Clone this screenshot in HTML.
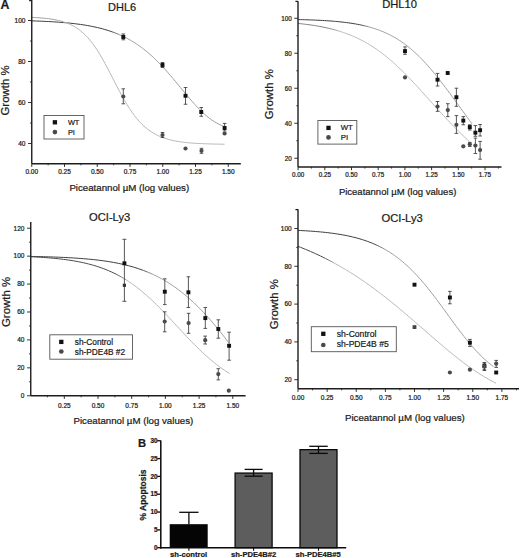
<!DOCTYPE html>
<html><head><meta charset="utf-8"><style>
html,body{margin:0;padding:0;background:#fff;}
svg{display:block;}
text{font-family:"Liberation Sans",sans-serif;stroke:#1a1a1a;stroke-width:0.22px;}
</style></head><body>
<svg width="520" height="558" viewBox="0 0 520 558">
<rect width="520" height="558" fill="#fff"/>
<linearGradient id="g1" gradientUnits="userSpaceOnUse" x1="31.75" y1="0" x2="224.0" y2="0"><stop offset="0.407" stop-color="#3c3c3c"/><stop offset="0.469" stop-color="#a0a0a0"/></linearGradient>
<path d="M31.75,20.86 L34.18,20.94 L36.62,21.02 L39.05,21.12 L41.48,21.22 L43.92,21.32 L46.35,21.44 L48.78,21.57 L51.22,21.70 L53.65,21.85 L56.09,22.00 L58.52,22.17 L60.95,22.36 L63.39,22.55 L65.82,22.76 L68.25,22.99 L70.69,23.24 L73.12,23.50 L75.55,23.79 L77.99,24.10 L80.42,24.43 L82.85,24.78 L85.29,25.17 L87.72,25.58 L90.16,26.02 L92.59,26.50 L95.02,27.01 L97.46,27.56 L99.89,28.15 L102.32,28.78 L104.76,29.46 L107.19,30.19 L109.62,30.97 L112.06,31.80 L114.49,32.69 L116.92,33.64 L119.36,34.66 L121.79,35.74 L124.22,36.90 L126.66,38.13 L129.09,39.44 L131.53,40.83 L133.96,42.31 L136.39,43.87 L138.83,45.52 L141.26,47.27 L143.69,49.11 L146.13,51.05 L148.56,53.08 L150.99,55.21 L153.43,57.44 L155.86,59.77 L158.29,62.19 L160.73,64.70 L163.16,67.30 L165.59,69.97 L168.03,72.72 L170.46,75.53 L172.90,78.40 L175.33,81.32 L177.76,84.26 L180.20,87.22 L182.63,90.18 L185.06,93.13 L187.50,96.05 L189.93,98.92 L192.36,101.73 L194.80,104.45 L197.23,107.08 L199.66,109.59 L202.10,111.97 L204.53,114.22 L206.97,116.31 L209.40,118.25 L211.83,120.02 L214.27,121.63 L216.70,123.07 L219.13,124.35 L221.57,125.47 L224.00,126.44" fill="none" stroke="url(#g1)" stroke-width="1.0" />
<linearGradient id="g2" gradientUnits="userSpaceOnUse" x1="31.75" y1="0" x2="224.6" y2="0"><stop offset="0.115" stop-color="#a0a0a0"/><stop offset="0.178" stop-color="#b8b8b8"/></linearGradient>
<path d="M31.75,17.38 L34.19,17.50 L36.63,17.64 L39.07,17.80 L41.51,17.99 L43.96,18.20 L46.40,18.46 L48.84,18.75 L51.28,19.10 L53.72,19.49 L56.16,19.96 L58.60,20.49 L61.04,21.11 L63.48,21.83 L65.93,22.65 L68.37,23.60 L70.81,24.69 L73.25,25.94 L75.69,27.37 L78.13,28.99 L80.57,30.82 L83.01,32.89 L85.46,35.20 L87.90,37.78 L90.34,40.64 L92.78,43.77 L95.22,47.19 L97.66,50.88 L100.10,54.83 L102.54,59.02 L104.98,63.42 L107.43,67.98 L109.87,72.66 L112.31,77.41 L114.75,82.18 L117.19,86.90 L119.63,91.54 L122.07,96.04 L124.51,100.37 L126.95,104.48 L129.40,108.36 L131.84,111.99 L134.28,115.35 L136.72,118.45 L139.16,121.28 L141.60,123.86 L144.04,126.19 L146.48,128.29 L148.92,130.17 L151.37,131.86 L153.81,133.36 L156.25,134.69 L158.69,135.88 L161.13,136.92 L163.57,137.84 L166.01,138.66 L168.45,139.38 L170.89,140.01 L173.34,140.56 L175.78,141.04 L178.22,141.47 L180.66,141.84 L183.10,142.17 L185.54,142.46 L187.98,142.71 L190.42,142.93 L192.87,143.12 L195.31,143.29 L197.75,143.43 L200.19,143.56 L202.63,143.67 L205.07,143.77 L207.51,143.86 L209.95,143.93 L212.39,144.00 L214.84,144.06 L217.28,144.11 L219.72,144.15 L222.16,144.19 L224.60,144.22" fill="none" stroke="url(#g2)" stroke-width="1.0" />
<line x1="31.75" y1="0" x2="31.75" y2="163.75" stroke="#1e1e1e" stroke-width="1.4"/>
<line x1="28.05" y1="20.5" x2="31.75" y2="20.5" stroke="#1e1e1e" stroke-width="0.9"/>
<text x="25.45" y="22.84" font-size="6.5" text-anchor="end" fill="#1a1a1a">100</text>
<line x1="28.05" y1="61.5" x2="31.75" y2="61.5" stroke="#1e1e1e" stroke-width="0.9"/>
<text x="25.45" y="63.84" font-size="6.5" text-anchor="end" fill="#1a1a1a">80</text>
<line x1="28.05" y1="102.5" x2="31.75" y2="102.5" stroke="#1e1e1e" stroke-width="0.9"/>
<text x="25.45" y="104.84" font-size="6.5" text-anchor="end" fill="#1a1a1a">60</text>
<line x1="28.05" y1="143.5" x2="31.75" y2="143.5" stroke="#1e1e1e" stroke-width="0.9"/>
<text x="25.45" y="145.84" font-size="6.5" text-anchor="end" fill="#1a1a1a">40</text>
<line x1="29.95" y1="41.0" x2="31.75" y2="41.0" stroke="#1e1e1e" stroke-width="0.8"/>
<line x1="29.95" y1="82.0" x2="31.75" y2="82.0" stroke="#1e1e1e" stroke-width="0.8"/>
<line x1="29.95" y1="122.99999999999999" x2="31.75" y2="122.99999999999999" stroke="#1e1e1e" stroke-width="0.8"/>
<line x1="31.75" y1="163.75" x2="240.8" y2="163.75" stroke="#1e1e1e" stroke-width="1.4"/>
<line x1="31.75" y1="163.75" x2="31.75" y2="166.95" stroke="#1e1e1e" stroke-width="0.9"/>
<text x="31.75" y="174.05" font-size="6.5" text-anchor="middle" fill="#1a1a1a">0.00</text>
<line x1="64.5" y1="163.75" x2="64.5" y2="166.95" stroke="#1e1e1e" stroke-width="0.9"/>
<text x="64.5" y="174.05" font-size="6.5" text-anchor="middle" fill="#1a1a1a">0.25</text>
<line x1="97.25" y1="163.75" x2="97.25" y2="166.95" stroke="#1e1e1e" stroke-width="0.9"/>
<text x="97.25" y="174.05" font-size="6.5" text-anchor="middle" fill="#1a1a1a">0.50</text>
<line x1="130.0" y1="163.75" x2="130.0" y2="166.95" stroke="#1e1e1e" stroke-width="0.9"/>
<text x="130.0" y="174.05" font-size="6.5" text-anchor="middle" fill="#1a1a1a">0.75</text>
<line x1="162.75" y1="163.75" x2="162.75" y2="166.95" stroke="#1e1e1e" stroke-width="0.9"/>
<text x="162.75" y="174.05" font-size="6.5" text-anchor="middle" fill="#1a1a1a">1.00</text>
<line x1="195.5" y1="163.75" x2="195.5" y2="166.95" stroke="#1e1e1e" stroke-width="0.9"/>
<text x="195.5" y="174.05" font-size="6.5" text-anchor="middle" fill="#1a1a1a">1.25</text>
<line x1="228.25" y1="163.75" x2="228.25" y2="166.95" stroke="#1e1e1e" stroke-width="0.9"/>
<text x="228.25" y="174.05" font-size="6.5" text-anchor="middle" fill="#1a1a1a">1.50</text>
<line x1="48.125" y1="163.75" x2="48.125" y2="165.35" stroke="#1e1e1e" stroke-width="0.8"/>
<line x1="80.875" y1="163.75" x2="80.875" y2="165.35" stroke="#1e1e1e" stroke-width="0.8"/>
<line x1="113.625" y1="163.75" x2="113.625" y2="165.35" stroke="#1e1e1e" stroke-width="0.8"/>
<line x1="146.375" y1="163.75" x2="146.375" y2="165.35" stroke="#1e1e1e" stroke-width="0.8"/>
<line x1="179.125" y1="163.75" x2="179.125" y2="165.35" stroke="#1e1e1e" stroke-width="0.8"/>
<line x1="211.875" y1="163.75" x2="211.875" y2="165.35" stroke="#1e1e1e" stroke-width="0.8"/>
<line x1="123.3" y1="34" x2="123.3" y2="39.8" stroke="#3a3a3a" stroke-width="0.85"/>
<line x1="121.5" y1="34" x2="125.1" y2="34" stroke="#3a3a3a" stroke-width="0.85"/>
<line x1="121.5" y1="39.8" x2="125.1" y2="39.8" stroke="#3a3a3a" stroke-width="0.85"/>
<rect x="121.35" y="35.05" width="3.9" height="3.9" fill="#111"/>
<line x1="162.5" y1="62.5" x2="162.5" y2="67.5" stroke="#3a3a3a" stroke-width="0.85"/>
<line x1="160.7" y1="62.5" x2="164.3" y2="62.5" stroke="#3a3a3a" stroke-width="0.85"/>
<line x1="160.7" y1="67.5" x2="164.3" y2="67.5" stroke="#3a3a3a" stroke-width="0.85"/>
<rect x="160.55" y="63.05" width="3.9" height="3.9" fill="#111"/>
<line x1="185.5" y1="87.5" x2="185.5" y2="104.25" stroke="#3a3a3a" stroke-width="0.85"/>
<line x1="183.7" y1="87.5" x2="187.3" y2="87.5" stroke="#3a3a3a" stroke-width="0.85"/>
<line x1="183.7" y1="104.25" x2="187.3" y2="104.25" stroke="#3a3a3a" stroke-width="0.85"/>
<rect x="183.55" y="93.80" width="3.9" height="3.9" fill="#111"/>
<line x1="201.25" y1="107.5" x2="201.25" y2="116.25" stroke="#3a3a3a" stroke-width="0.85"/>
<line x1="199.45" y1="107.5" x2="203.05" y2="107.5" stroke="#3a3a3a" stroke-width="0.85"/>
<line x1="199.45" y1="116.25" x2="203.05" y2="116.25" stroke="#3a3a3a" stroke-width="0.85"/>
<rect x="199.30" y="110.05" width="3.9" height="3.9" fill="#111"/>
<line x1="224.6" y1="123.4" x2="224.6" y2="131" stroke="#3a3a3a" stroke-width="0.85"/>
<line x1="222.79999999999998" y1="123.4" x2="226.4" y2="123.4" stroke="#3a3a3a" stroke-width="0.85"/>
<line x1="222.79999999999998" y1="131" x2="226.4" y2="131" stroke="#3a3a3a" stroke-width="0.85"/>
<rect x="222.65" y="126.05" width="3.9" height="3.9" fill="#111"/>
<line x1="123.3" y1="88.8" x2="123.3" y2="103.8" stroke="#3a3a3a" stroke-width="0.85"/>
<line x1="121.5" y1="88.8" x2="125.1" y2="88.8" stroke="#3a3a3a" stroke-width="0.85"/>
<line x1="121.5" y1="103.8" x2="125.1" y2="103.8" stroke="#3a3a3a" stroke-width="0.85"/>
<circle cx="123.3" cy="96.5" r="2.1" fill="#4a4a4a"/>
<line x1="162.5" y1="132.5" x2="162.5" y2="137.5" stroke="#3a3a3a" stroke-width="0.85"/>
<line x1="160.7" y1="132.5" x2="164.3" y2="132.5" stroke="#3a3a3a" stroke-width="0.85"/>
<line x1="160.7" y1="137.5" x2="164.3" y2="137.5" stroke="#3a3a3a" stroke-width="0.85"/>
<circle cx="162.5" cy="135" r="2.1" fill="#4a4a4a"/>
<circle cx="185.5" cy="148.5" r="2.1" fill="#4a4a4a"/>
<line x1="201.5" y1="148.3" x2="201.5" y2="153.3" stroke="#3a3a3a" stroke-width="0.85"/>
<line x1="199.7" y1="148.3" x2="203.3" y2="148.3" stroke="#3a3a3a" stroke-width="0.85"/>
<line x1="199.7" y1="153.3" x2="203.3" y2="153.3" stroke="#3a3a3a" stroke-width="0.85"/>
<circle cx="201.5" cy="150.8" r="2.1" fill="#4a4a4a"/>
<circle cx="224.6" cy="133.5" r="2.1" fill="#4a4a4a"/>
<rect x="44" y="115.5" width="40" height="23.5" fill="#fff" stroke="#555" stroke-width="0.9"/>
<rect x="52.75" y="120.15" width="4.3" height="4.3" fill="#111"/>
<text x="67.9" y="124.9" font-size="7.4" text-anchor="start" font-weight="normal" fill="#1a1a1a" >WT</text>
<circle cx="54.9" cy="132.1" r="2.35" fill="#4a4a4a"/>
<text x="67.9" y="134.6" font-size="7.4" text-anchor="start" font-weight="normal" fill="#1a1a1a" >PI</text>
<text x="108" y="10.8" font-size="11" text-anchor="start" font-weight="normal" fill="#1a1a1a" >DHL6</text>
<text x="69.4" y="190.5" font-size="9.7" text-anchor="start" font-weight="normal" fill="#1a1a1a" >Piceatannol µM (log values)</text>
<text x="9.3" y="90.5" font-size="11.4" text-anchor="middle" font-weight="normal" fill="#1a1a1a" transform="rotate(-90 9.3 90.5)">Growth %</text>
<text x="0.4" y="8.8" font-size="12.3" text-anchor="start" font-weight="bold" fill="#1a1a1a" >A</text>
<linearGradient id="g3" gradientUnits="userSpaceOnUse" x1="298.1" y1="0" x2="472.0" y2="0"><stop offset="0.350" stop-color="#3c3c3c"/><stop offset="0.419" stop-color="#a0a0a0"/></linearGradient>
<path d="M298.10,19.55 L300.30,19.60 L302.50,19.66 L304.70,19.73 L306.91,19.79 L309.11,19.87 L311.31,19.95 L313.51,20.03 L315.71,20.13 L317.91,20.23 L320.11,20.34 L322.31,20.46 L324.52,20.58 L326.72,20.72 L328.92,20.87 L331.12,21.03 L333.32,21.21 L335.52,21.39 L337.72,21.60 L339.92,21.82 L342.13,22.05 L344.33,22.31 L346.53,22.58 L348.73,22.88 L350.93,23.20 L353.13,23.54 L355.33,23.91 L357.53,24.31 L359.74,24.74 L361.94,25.20 L364.14,25.70 L366.34,26.23 L368.54,26.80 L370.74,27.41 L372.94,28.07 L375.14,28.77 L377.35,29.53 L379.55,30.33 L381.75,31.19 L383.95,32.11 L386.15,33.08 L388.35,34.12 L390.55,35.23 L392.75,36.40 L394.96,37.64 L397.16,38.96 L399.36,40.35 L401.56,41.82 L403.76,43.37 L405.96,45.00 L408.16,46.72 L410.36,48.51 L412.57,50.39 L414.77,52.36 L416.97,54.40 L419.17,56.53 L421.37,58.75 L423.57,61.04 L425.77,63.41 L427.97,65.86 L430.18,68.38 L432.38,70.96 L434.58,73.62 L436.78,76.33 L438.98,79.10 L441.18,81.92 L443.38,84.79 L445.58,87.70 L447.79,90.64 L449.99,93.61 L452.19,96.61 L454.39,99.62 L456.59,102.65 L458.79,105.69 L460.99,108.72 L463.19,111.76 L465.40,114.78 L467.60,117.80 L469.80,120.79 L472.00,123.77" fill="none" stroke="url(#g3)" stroke-width="1.0" />
<linearGradient id="g4" gradientUnits="userSpaceOnUse" x1="298.1" y1="0" x2="469.5" y2="0"><stop offset="0.180" stop-color="#808080"/><stop offset="0.250" stop-color="#bcbcbc"/></linearGradient>
<path d="M298.10,23.45 L300.27,23.67 L302.44,23.91 L304.61,24.16 L306.78,24.43 L308.95,24.72 L311.12,25.03 L313.29,25.35 L315.46,25.70 L317.63,26.06 L319.80,26.45 L321.97,26.86 L324.14,27.30 L326.31,27.76 L328.47,28.25 L330.64,28.77 L332.81,29.32 L334.98,29.91 L337.15,30.52 L339.32,31.17 L341.49,31.86 L343.66,32.58 L345.83,33.35 L348.00,34.15 L350.17,35.00 L352.34,35.89 L354.51,36.83 L356.68,37.82 L358.85,38.85 L361.02,39.94 L363.19,41.07 L365.36,42.26 L367.53,43.51 L369.70,44.80 L371.87,46.16 L374.04,47.56 L376.21,49.03 L378.38,50.55 L380.55,52.13 L382.72,53.77 L384.88,55.46 L387.05,57.21 L389.22,59.02 L391.39,60.88 L393.56,62.80 L395.73,64.76 L397.90,66.78 L400.07,68.84 L402.24,70.95 L404.41,73.10 L406.58,75.30 L408.75,77.53 L410.92,79.79 L413.09,82.09 L415.26,84.42 L417.43,86.77 L419.60,89.14 L421.77,91.52 L423.94,93.93 L426.11,96.34 L428.28,98.75 L430.45,101.17 L432.62,103.59 L434.79,106.01 L436.96,108.41 L439.13,110.81 L441.29,113.19 L443.46,115.55 L445.63,117.89 L447.80,120.21 L449.97,122.50 L452.14,124.76 L454.31,127.00 L456.48,129.20 L458.65,131.37 L460.82,133.50 L462.99,135.59 L465.16,137.65 L467.33,139.67 L469.50,141.64" fill="none" stroke="url(#g4)" stroke-width="1.0" />
<line x1="298.0" y1="1.25" x2="298.0" y2="167" stroke="#1e1e1e" stroke-width="1.4"/>
<line x1="294.3" y1="18.25" x2="298.0" y2="18.25" stroke="#1e1e1e" stroke-width="0.9"/>
<text x="291.7" y="20.52" font-size="6.3" text-anchor="end" fill="#1a1a1a">100</text>
<line x1="294.3" y1="53.25" x2="298.0" y2="53.25" stroke="#1e1e1e" stroke-width="0.9"/>
<text x="291.7" y="55.52" font-size="6.3" text-anchor="end" fill="#1a1a1a">80</text>
<line x1="294.3" y1="88.25" x2="298.0" y2="88.25" stroke="#1e1e1e" stroke-width="0.9"/>
<text x="291.7" y="90.52" font-size="6.3" text-anchor="end" fill="#1a1a1a">60</text>
<line x1="294.3" y1="123.25" x2="298.0" y2="123.25" stroke="#1e1e1e" stroke-width="0.9"/>
<text x="291.7" y="125.52" font-size="6.3" text-anchor="end" fill="#1a1a1a">40</text>
<line x1="294.3" y1="158.25" x2="298.0" y2="158.25" stroke="#1e1e1e" stroke-width="0.9"/>
<text x="291.7" y="160.52" font-size="6.3" text-anchor="end" fill="#1a1a1a">20</text>
<line x1="296.2" y1="35.75" x2="298.0" y2="35.75" stroke="#1e1e1e" stroke-width="0.8"/>
<line x1="296.2" y1="70.75" x2="298.0" y2="70.75" stroke="#1e1e1e" stroke-width="0.8"/>
<line x1="296.2" y1="105.75" x2="298.0" y2="105.75" stroke="#1e1e1e" stroke-width="0.8"/>
<line x1="296.2" y1="140.75" x2="298.0" y2="140.75" stroke="#1e1e1e" stroke-width="0.8"/>
<line x1="298.0" y1="167" x2="501.5" y2="167" stroke="#1e1e1e" stroke-width="1.4"/>
<line x1="298.1" y1="167" x2="298.1" y2="170.2" stroke="#1e1e1e" stroke-width="0.9"/>
<text x="298.1" y="177.20" font-size="6.3" text-anchor="middle" fill="#1a1a1a">0.00</text>
<line x1="324.8" y1="167" x2="324.8" y2="170.2" stroke="#1e1e1e" stroke-width="0.9"/>
<text x="324.8" y="177.20" font-size="6.3" text-anchor="middle" fill="#1a1a1a">0.25</text>
<line x1="351.5" y1="167" x2="351.5" y2="170.2" stroke="#1e1e1e" stroke-width="0.9"/>
<text x="351.5" y="177.20" font-size="6.3" text-anchor="middle" fill="#1a1a1a">0.50</text>
<line x1="378.20000000000005" y1="167" x2="378.20000000000005" y2="170.2" stroke="#1e1e1e" stroke-width="0.9"/>
<text x="378.20000000000005" y="177.20" font-size="6.3" text-anchor="middle" fill="#1a1a1a">0.75</text>
<line x1="404.90000000000003" y1="167" x2="404.90000000000003" y2="170.2" stroke="#1e1e1e" stroke-width="0.9"/>
<text x="404.90000000000003" y="177.20" font-size="6.3" text-anchor="middle" fill="#1a1a1a">1.00</text>
<line x1="431.6" y1="167" x2="431.6" y2="170.2" stroke="#1e1e1e" stroke-width="0.9"/>
<text x="431.6" y="177.20" font-size="6.3" text-anchor="middle" fill="#1a1a1a">1.25</text>
<line x1="458.3" y1="167" x2="458.3" y2="170.2" stroke="#1e1e1e" stroke-width="0.9"/>
<text x="458.3" y="177.20" font-size="6.3" text-anchor="middle" fill="#1a1a1a">1.50</text>
<line x1="485.0" y1="167" x2="485.0" y2="170.2" stroke="#1e1e1e" stroke-width="0.9"/>
<text x="485.0" y="177.20" font-size="6.3" text-anchor="middle" fill="#1a1a1a">1.75</text>
<line x1="311.45000000000005" y1="167" x2="311.45000000000005" y2="168.6" stroke="#1e1e1e" stroke-width="0.8"/>
<line x1="338.15000000000003" y1="167" x2="338.15000000000003" y2="168.6" stroke="#1e1e1e" stroke-width="0.8"/>
<line x1="364.85" y1="167" x2="364.85" y2="168.6" stroke="#1e1e1e" stroke-width="0.8"/>
<line x1="391.55" y1="167" x2="391.55" y2="168.6" stroke="#1e1e1e" stroke-width="0.8"/>
<line x1="418.25" y1="167" x2="418.25" y2="168.6" stroke="#1e1e1e" stroke-width="0.8"/>
<line x1="444.95000000000005" y1="167" x2="444.95000000000005" y2="168.6" stroke="#1e1e1e" stroke-width="0.8"/>
<line x1="471.65" y1="167" x2="471.65" y2="168.6" stroke="#1e1e1e" stroke-width="0.8"/>
<line x1="498.35" y1="167" x2="498.35" y2="168.6" stroke="#1e1e1e" stroke-width="0.8"/>
<line x1="405" y1="46.9" x2="405" y2="54.3" stroke="#3a3a3a" stroke-width="0.85"/>
<line x1="403.2" y1="46.9" x2="406.8" y2="46.9" stroke="#3a3a3a" stroke-width="0.85"/>
<line x1="403.2" y1="54.3" x2="406.8" y2="54.3" stroke="#3a3a3a" stroke-width="0.85"/>
<rect x="403.05" y="49.15" width="3.9" height="3.9" fill="#111"/>
<circle cx="405" cy="77.4" r="2.1" fill="#4a4a4a"/>
<line x1="437.5" y1="73.4" x2="437.5" y2="86" stroke="#3a3a3a" stroke-width="0.85"/>
<line x1="435.7" y1="73.4" x2="439.3" y2="73.4" stroke="#3a3a3a" stroke-width="0.85"/>
<line x1="435.7" y1="86" x2="439.3" y2="86" stroke="#3a3a3a" stroke-width="0.85"/>
<rect x="435.55" y="77.75" width="3.9" height="3.9" fill="#111"/>
<rect x="445.75" y="71.05" width="3.9" height="3.9" fill="#111"/>
<line x1="456.4" y1="88.2" x2="456.4" y2="106.3" stroke="#3a3a3a" stroke-width="0.85"/>
<line x1="454.59999999999997" y1="88.2" x2="458.2" y2="88.2" stroke="#3a3a3a" stroke-width="0.85"/>
<line x1="454.59999999999997" y1="106.3" x2="458.2" y2="106.3" stroke="#3a3a3a" stroke-width="0.85"/>
<rect x="454.45" y="95.25" width="3.9" height="3.9" fill="#111"/>
<line x1="463.3" y1="116.6" x2="463.3" y2="124.8" stroke="#3a3a3a" stroke-width="0.85"/>
<line x1="461.5" y1="116.6" x2="465.1" y2="116.6" stroke="#3a3a3a" stroke-width="0.85"/>
<line x1="461.5" y1="124.8" x2="465.1" y2="124.8" stroke="#3a3a3a" stroke-width="0.85"/>
<rect x="461.35" y="118.65" width="3.9" height="3.9" fill="#111"/>
<line x1="469.8" y1="124.8" x2="469.8" y2="130" stroke="#3a3a3a" stroke-width="0.85"/>
<line x1="468.0" y1="124.8" x2="471.6" y2="124.8" stroke="#3a3a3a" stroke-width="0.85"/>
<line x1="468.0" y1="130" x2="471.6" y2="130" stroke="#3a3a3a" stroke-width="0.85"/>
<rect x="467.85" y="125.15" width="3.9" height="3.9" fill="#111"/>
<line x1="475.4" y1="125.6" x2="475.4" y2="136.3" stroke="#3a3a3a" stroke-width="0.85"/>
<line x1="473.59999999999997" y1="125.6" x2="477.2" y2="125.6" stroke="#3a3a3a" stroke-width="0.85"/>
<line x1="473.59999999999997" y1="136.3" x2="477.2" y2="136.3" stroke="#3a3a3a" stroke-width="0.85"/>
<rect x="473.45" y="130.75" width="3.9" height="3.9" fill="#111"/>
<line x1="480.1" y1="124.5" x2="480.1" y2="136" stroke="#3a3a3a" stroke-width="0.85"/>
<line x1="478.3" y1="124.5" x2="481.90000000000003" y2="124.5" stroke="#3a3a3a" stroke-width="0.85"/>
<line x1="478.3" y1="136" x2="481.90000000000003" y2="136" stroke="#3a3a3a" stroke-width="0.85"/>
<rect x="478.15" y="128.25" width="3.9" height="3.9" fill="#111"/>
<line x1="437.5" y1="101.5" x2="437.5" y2="111.3" stroke="#3a3a3a" stroke-width="0.85"/>
<line x1="435.7" y1="101.5" x2="439.3" y2="101.5" stroke="#3a3a3a" stroke-width="0.85"/>
<line x1="435.7" y1="111.3" x2="439.3" y2="111.3" stroke="#3a3a3a" stroke-width="0.85"/>
<circle cx="437.5" cy="106.6" r="2.1" fill="#4a4a4a"/>
<line x1="447.8" y1="103.7" x2="447.8" y2="116.6" stroke="#3a3a3a" stroke-width="0.85"/>
<line x1="446.0" y1="103.7" x2="449.6" y2="103.7" stroke="#3a3a3a" stroke-width="0.85"/>
<line x1="446.0" y1="116.6" x2="449.6" y2="116.6" stroke="#3a3a3a" stroke-width="0.85"/>
<circle cx="447.8" cy="110.1" r="2.1" fill="#4a4a4a"/>
<line x1="456.4" y1="115.6" x2="456.4" y2="133.4" stroke="#3a3a3a" stroke-width="0.85"/>
<line x1="454.59999999999997" y1="115.6" x2="458.2" y2="115.6" stroke="#3a3a3a" stroke-width="0.85"/>
<line x1="454.59999999999997" y1="133.4" x2="458.2" y2="133.4" stroke="#3a3a3a" stroke-width="0.85"/>
<circle cx="456.4" cy="124.8" r="2.1" fill="#4a4a4a"/>
<circle cx="463.3" cy="146.3" r="2.1" fill="#4a4a4a"/>
<line x1="469.8" y1="142.4" x2="469.8" y2="146.4" stroke="#3a3a3a" stroke-width="0.85"/>
<line x1="468.0" y1="142.4" x2="471.6" y2="142.4" stroke="#3a3a3a" stroke-width="0.85"/>
<line x1="468.0" y1="146.4" x2="471.6" y2="146.4" stroke="#3a3a3a" stroke-width="0.85"/>
<circle cx="469.8" cy="144.3" r="2.1" fill="#4a4a4a"/>
<line x1="475.4" y1="138.1" x2="475.4" y2="153.5" stroke="#3a3a3a" stroke-width="0.85"/>
<line x1="473.59999999999997" y1="138.1" x2="477.2" y2="138.1" stroke="#3a3a3a" stroke-width="0.85"/>
<line x1="473.59999999999997" y1="153.5" x2="477.2" y2="153.5" stroke="#3a3a3a" stroke-width="0.85"/>
<circle cx="475.4" cy="145.6" r="2.1" fill="#4a4a4a"/>
<line x1="480.1" y1="141.4" x2="480.1" y2="159.2" stroke="#3a3a3a" stroke-width="0.85"/>
<line x1="478.3" y1="141.4" x2="481.90000000000003" y2="141.4" stroke="#3a3a3a" stroke-width="0.85"/>
<line x1="478.3" y1="159.2" x2="481.90000000000003" y2="159.2" stroke="#3a3a3a" stroke-width="0.85"/>
<circle cx="480.1" cy="150" r="2.1" fill="#4a4a4a"/>
<rect x="317.9" y="120.5" width="38.900000000000034" height="23.599999999999994" fill="#fff" stroke="#555" stroke-width="0.9"/>
<rect x="326.35" y="125.75" width="4.3" height="4.3" fill="#111"/>
<text x="340.7" y="130.3" font-size="7.8" text-anchor="start" font-weight="normal" fill="#1a1a1a" >WT</text>
<circle cx="328.5" cy="137.4" r="2.35" fill="#4a4a4a"/>
<text x="340.7" y="140.2" font-size="7.8" text-anchor="start" font-weight="normal" fill="#1a1a1a" >PI</text>
<text x="382.2" y="8.2" font-size="11.2" text-anchor="start" font-weight="normal" fill="#1a1a1a" >DHL10</text>
<text x="338.9" y="194.7" font-size="9.5" text-anchor="start" font-weight="normal" fill="#1a1a1a" >Piceatannol µM (log values)</text>
<text x="273.0" y="94.2" font-size="11.4" text-anchor="middle" font-weight="normal" fill="#1a1a1a" transform="rotate(-90 273.0 94.2)">Growth %</text>
<linearGradient id="g5" gradientUnits="userSpaceOnUse" x1="30.75" y1="0" x2="228.6" y2="0"><stop offset="0.557" stop-color="#3c3c3c"/><stop offset="0.618" stop-color="#a0a0a0"/></linearGradient>
<path d="M30.75,256.43 L33.25,256.48 L35.76,256.53 L38.26,256.59 L40.77,256.65 L43.27,256.71 L45.78,256.78 L48.28,256.85 L50.79,256.93 L53.29,257.02 L55.79,257.11 L58.30,257.21 L60.80,257.31 L63.31,257.42 L65.81,257.54 L68.32,257.67 L70.82,257.81 L73.33,257.96 L75.83,258.12 L78.33,258.29 L80.84,258.47 L83.34,258.66 L85.85,258.87 L88.35,259.10 L90.86,259.34 L93.36,259.59 L95.87,259.87 L98.37,260.16 L100.87,260.48 L103.38,260.81 L105.88,261.17 L108.39,261.55 L110.89,261.96 L113.40,262.40 L115.90,262.86 L118.41,263.36 L120.91,263.89 L123.41,264.45 L125.92,265.05 L128.42,265.69 L130.93,266.37 L133.43,267.09 L135.94,267.86 L138.44,268.67 L140.94,269.53 L143.45,270.44 L145.95,271.41 L148.46,272.43 L150.96,273.51 L153.47,274.65 L155.97,275.85 L158.48,277.11 L160.98,278.44 L163.48,279.84 L165.99,281.31 L168.49,282.85 L171.00,284.47 L173.50,286.16 L176.01,287.92 L178.51,289.76 L181.02,291.68 L183.52,293.68 L186.02,295.75 L188.53,297.91 L191.03,300.14 L193.54,302.46 L196.04,304.85 L198.55,307.32 L201.05,309.86 L203.56,312.49 L206.06,315.18 L208.56,317.95 L211.07,320.79 L213.57,323.70 L216.08,326.68 L218.58,329.72 L221.09,332.83 L223.59,335.99 L226.10,339.22 L228.60,342.50" fill="none" stroke="url(#g5)" stroke-width="1.0" />
<linearGradient id="g6" gradientUnits="userSpaceOnUse" x1="30.75" y1="0" x2="229.5" y2="0"><stop offset="0.429" stop-color="#4a4a4a"/><stop offset="0.489" stop-color="#b8b8b8"/></linearGradient>
<path d="M30.75,256.74 L33.27,256.86 L35.78,256.99 L38.30,257.14 L40.81,257.29 L43.33,257.46 L45.84,257.64 L48.36,257.83 L50.88,258.04 L53.39,258.27 L55.91,258.51 L58.42,258.78 L60.94,259.06 L63.46,259.36 L65.97,259.69 L68.49,260.04 L71.00,260.42 L73.52,260.83 L76.03,261.27 L78.55,261.74 L81.07,262.24 L83.58,262.78 L86.10,263.36 L88.61,263.98 L91.13,264.65 L93.65,265.36 L96.16,266.12 L98.68,266.93 L101.19,267.79 L103.71,268.71 L106.22,269.70 L108.74,270.74 L111.26,271.85 L113.77,273.02 L116.29,274.27 L118.80,275.59 L121.32,276.98 L123.84,278.45 L126.35,280.00 L128.87,281.63 L131.38,283.33 L133.90,285.12 L136.41,286.99 L138.93,288.94 L141.45,290.97 L143.96,293.07 L146.48,295.26 L148.99,297.51 L151.51,299.84 L154.03,302.23 L156.54,304.68 L159.06,307.19 L161.57,309.75 L164.09,312.35 L166.60,315.00 L169.12,317.67 L171.64,320.37 L174.15,323.08 L176.67,325.80 L179.18,328.52 L181.70,331.23 L184.22,333.93 L186.73,336.60 L189.25,339.24 L191.76,341.85 L194.28,344.42 L196.79,346.93 L199.31,349.39 L201.83,351.80 L204.34,354.14 L206.86,356.41 L209.37,358.61 L211.89,360.74 L214.41,362.80 L216.92,364.77 L219.44,366.68 L221.95,368.50 L224.47,370.25 L226.98,371.93 L229.50,373.52" fill="none" stroke="url(#g6)" stroke-width="1.0" />
<line x1="30.75" y1="222" x2="30.75" y2="395.75" stroke="#1e1e1e" stroke-width="1.4"/>
<line x1="27.05" y1="228.23000000000002" x2="30.75" y2="228.23000000000002" stroke="#1e1e1e" stroke-width="0.9"/>
<text x="24.45" y="230.57" font-size="6.5" text-anchor="end" fill="#1a1a1a">120</text>
<line x1="27.05" y1="256.15" x2="30.75" y2="256.15" stroke="#1e1e1e" stroke-width="0.9"/>
<text x="24.45" y="258.49" font-size="6.5" text-anchor="end" fill="#1a1a1a">100</text>
<line x1="27.05" y1="284.07" x2="30.75" y2="284.07" stroke="#1e1e1e" stroke-width="0.9"/>
<text x="24.45" y="286.41" font-size="6.5" text-anchor="end" fill="#1a1a1a">80</text>
<line x1="27.05" y1="311.99" x2="30.75" y2="311.99" stroke="#1e1e1e" stroke-width="0.9"/>
<text x="24.45" y="314.33" font-size="6.5" text-anchor="end" fill="#1a1a1a">60</text>
<line x1="27.05" y1="339.91" x2="30.75" y2="339.91" stroke="#1e1e1e" stroke-width="0.9"/>
<text x="24.45" y="342.25" font-size="6.5" text-anchor="end" fill="#1a1a1a">40</text>
<line x1="27.05" y1="367.83" x2="30.75" y2="367.83" stroke="#1e1e1e" stroke-width="0.9"/>
<text x="24.45" y="370.17" font-size="6.5" text-anchor="end" fill="#1a1a1a">20</text>
<line x1="27.05" y1="395.75" x2="30.75" y2="395.75" stroke="#1e1e1e" stroke-width="0.9"/>
<text x="24.45" y="398.09" font-size="6.5" text-anchor="end" fill="#1a1a1a">0</text>
<line x1="28.95" y1="242.19" x2="30.75" y2="242.19" stroke="#1e1e1e" stroke-width="0.8"/>
<line x1="28.95" y1="270.11" x2="30.75" y2="270.11" stroke="#1e1e1e" stroke-width="0.8"/>
<line x1="28.95" y1="298.03" x2="30.75" y2="298.03" stroke="#1e1e1e" stroke-width="0.8"/>
<line x1="28.95" y1="325.95" x2="30.75" y2="325.95" stroke="#1e1e1e" stroke-width="0.8"/>
<line x1="28.95" y1="353.87" x2="30.75" y2="353.87" stroke="#1e1e1e" stroke-width="0.8"/>
<line x1="28.95" y1="381.79" x2="30.75" y2="381.79" stroke="#1e1e1e" stroke-width="0.8"/>
<line x1="30.75" y1="395.75" x2="245.6" y2="395.75" stroke="#1e1e1e" stroke-width="1.4"/>
<line x1="64.30000000000001" y1="395.75" x2="64.30000000000001" y2="398.95" stroke="#1e1e1e" stroke-width="0.9"/>
<text x="64.30000000000001" y="407.75" font-size="6.5" text-anchor="middle" fill="#1a1a1a">0.25</text>
<line x1="98.0" y1="395.75" x2="98.0" y2="398.95" stroke="#1e1e1e" stroke-width="0.9"/>
<text x="98.0" y="407.75" font-size="6.5" text-anchor="middle" fill="#1a1a1a">0.50</text>
<line x1="131.70000000000002" y1="395.75" x2="131.70000000000002" y2="398.95" stroke="#1e1e1e" stroke-width="0.9"/>
<text x="131.70000000000002" y="407.75" font-size="6.5" text-anchor="middle" fill="#1a1a1a">0.75</text>
<line x1="165.4" y1="395.75" x2="165.4" y2="398.95" stroke="#1e1e1e" stroke-width="0.9"/>
<text x="165.4" y="407.75" font-size="6.5" text-anchor="middle" fill="#1a1a1a">1.00</text>
<line x1="199.1" y1="395.75" x2="199.1" y2="398.95" stroke="#1e1e1e" stroke-width="0.9"/>
<text x="199.1" y="407.75" font-size="6.5" text-anchor="middle" fill="#1a1a1a">1.25</text>
<line x1="232.8" y1="395.75" x2="232.8" y2="398.95" stroke="#1e1e1e" stroke-width="0.9"/>
<text x="232.8" y="407.75" font-size="6.5" text-anchor="middle" fill="#1a1a1a">1.50</text>
<line x1="47.45" y1="395.75" x2="47.45" y2="397.35" stroke="#1e1e1e" stroke-width="0.8"/>
<line x1="81.15" y1="395.75" x2="81.15" y2="397.35" stroke="#1e1e1e" stroke-width="0.8"/>
<line x1="114.85" y1="395.75" x2="114.85" y2="397.35" stroke="#1e1e1e" stroke-width="0.8"/>
<line x1="148.55" y1="395.75" x2="148.55" y2="397.35" stroke="#1e1e1e" stroke-width="0.8"/>
<line x1="182.25" y1="395.75" x2="182.25" y2="397.35" stroke="#1e1e1e" stroke-width="0.8"/>
<line x1="215.95000000000002" y1="395.75" x2="215.95000000000002" y2="397.35" stroke="#1e1e1e" stroke-width="0.8"/>
<line x1="124.4" y1="239.3" x2="124.4" y2="301.3" stroke="#3a3a3a" stroke-width="0.85"/>
<line x1="122.4" y1="239.3" x2="126.4" y2="239.3" stroke="#3a3a3a" stroke-width="0.85"/>
<line x1="122.4" y1="301.3" x2="126.4" y2="301.3" stroke="#3a3a3a" stroke-width="0.85"/>
<rect x="122.45" y="261.35" width="3.9" height="3.9" fill="#111"/>
<rect x="122.80" y="283.70" width="3.2" height="3.2" fill="#333"/>
<line x1="164.8" y1="278.8" x2="164.8" y2="304.6" stroke="#3a3a3a" stroke-width="0.85"/>
<line x1="163.0" y1="278.8" x2="166.60000000000002" y2="278.8" stroke="#3a3a3a" stroke-width="0.85"/>
<line x1="163.0" y1="304.6" x2="166.60000000000002" y2="304.6" stroke="#3a3a3a" stroke-width="0.85"/>
<rect x="162.85" y="289.75" width="3.9" height="3.9" fill="#111"/>
<line x1="188.4" y1="276.8" x2="188.4" y2="307.5" stroke="#3a3a3a" stroke-width="0.85"/>
<line x1="186.6" y1="276.8" x2="190.20000000000002" y2="276.8" stroke="#3a3a3a" stroke-width="0.85"/>
<line x1="186.6" y1="307.5" x2="190.20000000000002" y2="307.5" stroke="#3a3a3a" stroke-width="0.85"/>
<rect x="186.45" y="290.35" width="3.9" height="3.9" fill="#111"/>
<line x1="205.3" y1="307.5" x2="205.3" y2="328.4" stroke="#3a3a3a" stroke-width="0.85"/>
<line x1="203.5" y1="307.5" x2="207.10000000000002" y2="307.5" stroke="#3a3a3a" stroke-width="0.85"/>
<line x1="203.5" y1="328.4" x2="207.10000000000002" y2="328.4" stroke="#3a3a3a" stroke-width="0.85"/>
<rect x="203.35" y="316.15" width="3.9" height="3.9" fill="#111"/>
<line x1="218.3" y1="319.8" x2="218.3" y2="338.2" stroke="#3a3a3a" stroke-width="0.85"/>
<line x1="216.5" y1="319.8" x2="220.10000000000002" y2="319.8" stroke="#3a3a3a" stroke-width="0.85"/>
<line x1="216.5" y1="338.2" x2="220.10000000000002" y2="338.2" stroke="#3a3a3a" stroke-width="0.85"/>
<rect x="216.35" y="327.05" width="3.9" height="3.9" fill="#111"/>
<line x1="229.1" y1="332.2" x2="229.1" y2="360.2" stroke="#3a3a3a" stroke-width="0.85"/>
<line x1="227.29999999999998" y1="332.2" x2="230.9" y2="332.2" stroke="#3a3a3a" stroke-width="0.85"/>
<line x1="227.29999999999998" y1="360.2" x2="230.9" y2="360.2" stroke="#3a3a3a" stroke-width="0.85"/>
<rect x="227.15" y="343.85" width="3.9" height="3.9" fill="#111"/>
<line x1="164.7" y1="311.8" x2="164.7" y2="331.8" stroke="#3a3a3a" stroke-width="0.85"/>
<line x1="162.89999999999998" y1="311.8" x2="166.5" y2="311.8" stroke="#3a3a3a" stroke-width="0.85"/>
<line x1="162.89999999999998" y1="331.8" x2="166.5" y2="331.8" stroke="#3a3a3a" stroke-width="0.85"/>
<circle cx="164.7" cy="321.5" r="2.1" fill="#4a4a4a"/>
<line x1="188.6" y1="313.3" x2="188.6" y2="333.3" stroke="#3a3a3a" stroke-width="0.85"/>
<line x1="186.79999999999998" y1="313.3" x2="190.4" y2="313.3" stroke="#3a3a3a" stroke-width="0.85"/>
<line x1="186.79999999999998" y1="333.3" x2="190.4" y2="333.3" stroke="#3a3a3a" stroke-width="0.85"/>
<circle cx="188.6" cy="323.1" r="2.1" fill="#4a4a4a"/>
<line x1="205.2" y1="336.1" x2="205.2" y2="344" stroke="#3a3a3a" stroke-width="0.85"/>
<line x1="203.39999999999998" y1="336.1" x2="207.0" y2="336.1" stroke="#3a3a3a" stroke-width="0.85"/>
<line x1="203.39999999999998" y1="344" x2="207.0" y2="344" stroke="#3a3a3a" stroke-width="0.85"/>
<circle cx="205.2" cy="340.2" r="2.1" fill="#4a4a4a"/>
<line x1="218.3" y1="368.7" x2="218.3" y2="379.9" stroke="#3a3a3a" stroke-width="0.85"/>
<line x1="216.5" y1="368.7" x2="220.10000000000002" y2="368.7" stroke="#3a3a3a" stroke-width="0.85"/>
<line x1="216.5" y1="379.9" x2="220.10000000000002" y2="379.9" stroke="#3a3a3a" stroke-width="0.85"/>
<circle cx="218.3" cy="374.1" r="2.1" fill="#4a4a4a"/>
<circle cx="228.8" cy="390.7" r="2.1" fill="#4a4a4a"/>
<rect x="49.8" y="334.8" width="82.7" height="24.399999999999977" fill="#fff" stroke="#555" stroke-width="0.9"/>
<rect x="59.15" y="339.75" width="4.3" height="4.3" fill="#111"/>
<text x="74.8" y="344.8" font-size="8.3" text-anchor="start" font-weight="normal" fill="#1a1a1a" >sh-Control</text>
<circle cx="61.3" cy="351.5" r="2.35" fill="#4a4a4a"/>
<text x="74.8" y="355" font-size="8.3" text-anchor="start" font-weight="normal" fill="#1a1a1a" >sh-PDE4B #2</text>
<text x="89" y="221.2" font-size="11.2" text-anchor="start" font-weight="normal" fill="#1a1a1a" >OCI-Ly3</text>
<text x="73.5" y="423.7" font-size="9.7" text-anchor="start" font-weight="normal" fill="#1a1a1a" >Piceatannol µM (log values)</text>
<text x="10.0" y="302" font-size="11.4" text-anchor="middle" font-weight="normal" fill="#1a1a1a" transform="rotate(-90 10.0 302)">Growth %</text>
<linearGradient id="g7" gradientUnits="userSpaceOnUse" x1="298" y1="0" x2="493.7" y2="0"><stop offset="0.388" stop-color="#3c3c3c"/><stop offset="0.450" stop-color="#a0a0a0"/></linearGradient>
<path d="M298.00,230.39 L300.48,230.52 L302.95,230.65 L305.43,230.79 L307.91,230.94 L310.39,231.11 L312.86,231.28 L315.34,231.48 L317.82,231.68 L320.29,231.90 L322.77,232.14 L325.25,232.40 L327.73,232.68 L330.20,232.98 L332.68,233.30 L335.16,233.65 L337.64,234.02 L340.11,234.42 L342.59,234.85 L345.07,235.31 L347.54,235.81 L350.02,236.34 L352.50,236.92 L354.98,237.53 L357.45,238.19 L359.93,238.89 L362.41,239.65 L364.88,240.46 L367.36,241.33 L369.84,242.25 L372.32,243.24 L374.79,244.29 L377.27,245.42 L379.75,246.62 L382.23,247.89 L384.70,249.25 L387.18,250.69 L389.66,252.21 L392.13,253.83 L394.61,255.54 L397.09,257.35 L399.57,259.25 L402.04,261.26 L404.52,263.36 L407.00,265.58 L409.47,267.89 L411.95,270.31 L414.43,272.83 L416.91,275.46 L419.38,278.18 L421.86,281.00 L424.34,283.92 L426.82,286.92 L429.29,290.00 L431.77,293.15 L434.25,296.38 L436.72,299.66 L439.20,302.98 L441.68,306.35 L444.16,309.74 L446.63,313.15 L449.11,316.56 L451.59,319.97 L454.06,323.35 L456.54,326.70 L459.02,330.01 L461.50,333.26 L463.97,336.44 L466.45,339.55 L468.93,342.57 L471.41,345.50 L473.88,348.32 L476.36,351.04 L478.84,353.65 L481.31,356.14 L483.79,358.51 L486.27,360.76 L488.75,362.89 L491.22,364.90 L493.70,366.78" fill="none" stroke="url(#g7)" stroke-width="1.0" />
<linearGradient id="g8" gradientUnits="userSpaceOnUse" x1="298" y1="0" x2="496" y2="0"><stop offset="0.131" stop-color="#4a4a4a"/><stop offset="0.192" stop-color="#b8b8b8"/></linearGradient>
<path d="M298.00,246.33 L300.51,247.30 L303.01,248.30 L305.52,249.33 L308.03,250.38 L310.53,251.46 L313.04,252.56 L315.54,253.70 L318.05,254.86 L320.56,256.05 L323.06,257.27 L325.57,258.51 L328.08,259.79 L330.58,261.10 L333.09,262.43 L335.59,263.80 L338.10,265.20 L340.61,266.63 L343.11,268.09 L345.62,269.57 L348.13,271.10 L350.63,272.65 L353.14,274.23 L355.65,275.84 L358.15,277.49 L360.66,279.16 L363.16,280.87 L365.67,282.60 L368.18,284.37 L370.68,286.16 L373.19,287.99 L375.70,289.84 L378.20,291.72 L380.71,293.63 L383.22,295.56 L385.72,297.52 L388.23,299.50 L390.73,301.51 L393.24,303.54 L395.75,305.59 L398.25,307.66 L400.76,309.75 L403.27,311.86 L405.77,313.99 L408.28,316.12 L410.78,318.27 L413.29,320.43 L415.80,322.60 L418.30,324.78 L420.81,326.96 L423.32,329.15 L425.82,331.33 L428.33,333.52 L430.84,335.69 L433.34,337.87 L435.85,340.03 L438.35,342.19 L440.86,344.33 L443.37,346.45 L445.87,348.56 L448.38,350.64 L450.89,352.70 L453.39,354.74 L455.90,356.74 L458.41,358.72 L460.91,360.66 L463.42,362.57 L465.92,364.44 L468.43,366.26 L470.94,368.05 L473.44,369.79 L475.95,371.48 L478.46,373.13 L480.96,374.72 L483.47,376.27 L485.97,377.76 L488.48,379.20 L490.99,380.59 L493.49,381.92 L496.00,383.19" fill="none" stroke="url(#g8)" stroke-width="1.0" />
<line x1="298" y1="209.25" x2="298" y2="388.75" stroke="#1e1e1e" stroke-width="1.4"/>
<line x1="294.3" y1="228.5" x2="298" y2="228.5" stroke="#1e1e1e" stroke-width="0.9"/>
<text x="291.7" y="230.84" font-size="6.5" text-anchor="end" fill="#1a1a1a">100</text>
<line x1="294.3" y1="266.3" x2="298" y2="266.3" stroke="#1e1e1e" stroke-width="0.9"/>
<text x="291.7" y="268.64" font-size="6.5" text-anchor="end" fill="#1a1a1a">80</text>
<line x1="294.3" y1="304.1" x2="298" y2="304.1" stroke="#1e1e1e" stroke-width="0.9"/>
<text x="291.7" y="306.44" font-size="6.5" text-anchor="end" fill="#1a1a1a">60</text>
<line x1="294.3" y1="341.9" x2="298" y2="341.9" stroke="#1e1e1e" stroke-width="0.9"/>
<text x="291.7" y="344.24" font-size="6.5" text-anchor="end" fill="#1a1a1a">40</text>
<line x1="294.3" y1="379.7" x2="298" y2="379.7" stroke="#1e1e1e" stroke-width="0.9"/>
<text x="291.7" y="382.04" font-size="6.5" text-anchor="end" fill="#1a1a1a">20</text>
<line x1="296.2" y1="247.4" x2="298" y2="247.4" stroke="#1e1e1e" stroke-width="0.8"/>
<line x1="296.2" y1="285.2" x2="298" y2="285.2" stroke="#1e1e1e" stroke-width="0.8"/>
<line x1="296.2" y1="323.0" x2="298" y2="323.0" stroke="#1e1e1e" stroke-width="0.8"/>
<line x1="296.2" y1="360.79999999999995" x2="298" y2="360.79999999999995" stroke="#1e1e1e" stroke-width="0.8"/>
<line x1="298" y1="388.75" x2="519" y2="388.75" stroke="#1e1e1e" stroke-width="1.4"/>
<line x1="298.0" y1="388.75" x2="298.0" y2="391.95" stroke="#1e1e1e" stroke-width="0.9"/>
<text x="298.0" y="400.25" font-size="6.5" text-anchor="middle" fill="#1a1a1a">0.00</text>
<line x1="327.125" y1="388.75" x2="327.125" y2="391.95" stroke="#1e1e1e" stroke-width="0.9"/>
<text x="327.125" y="400.25" font-size="6.5" text-anchor="middle" fill="#1a1a1a">0.25</text>
<line x1="356.25" y1="388.75" x2="356.25" y2="391.95" stroke="#1e1e1e" stroke-width="0.9"/>
<text x="356.25" y="400.25" font-size="6.5" text-anchor="middle" fill="#1a1a1a">0.50</text>
<line x1="385.375" y1="388.75" x2="385.375" y2="391.95" stroke="#1e1e1e" stroke-width="0.9"/>
<text x="385.375" y="400.25" font-size="6.5" text-anchor="middle" fill="#1a1a1a">0.75</text>
<line x1="414.5" y1="388.75" x2="414.5" y2="391.95" stroke="#1e1e1e" stroke-width="0.9"/>
<text x="414.5" y="400.25" font-size="6.5" text-anchor="middle" fill="#1a1a1a">1.00</text>
<line x1="443.625" y1="388.75" x2="443.625" y2="391.95" stroke="#1e1e1e" stroke-width="0.9"/>
<text x="443.625" y="400.25" font-size="6.5" text-anchor="middle" fill="#1a1a1a">1.25</text>
<line x1="472.75" y1="388.75" x2="472.75" y2="391.95" stroke="#1e1e1e" stroke-width="0.9"/>
<text x="472.75" y="400.25" font-size="6.5" text-anchor="middle" fill="#1a1a1a">1.50</text>
<line x1="501.875" y1="388.75" x2="501.875" y2="391.95" stroke="#1e1e1e" stroke-width="0.9"/>
<text x="501.875" y="400.25" font-size="6.5" text-anchor="middle" fill="#1a1a1a">1.75</text>
<line x1="312.5625" y1="388.75" x2="312.5625" y2="390.35" stroke="#1e1e1e" stroke-width="0.8"/>
<line x1="341.6875" y1="388.75" x2="341.6875" y2="390.35" stroke="#1e1e1e" stroke-width="0.8"/>
<line x1="370.8125" y1="388.75" x2="370.8125" y2="390.35" stroke="#1e1e1e" stroke-width="0.8"/>
<line x1="399.9375" y1="388.75" x2="399.9375" y2="390.35" stroke="#1e1e1e" stroke-width="0.8"/>
<line x1="429.0625" y1="388.75" x2="429.0625" y2="390.35" stroke="#1e1e1e" stroke-width="0.8"/>
<line x1="458.1875" y1="388.75" x2="458.1875" y2="390.35" stroke="#1e1e1e" stroke-width="0.8"/>
<line x1="487.3125" y1="388.75" x2="487.3125" y2="390.35" stroke="#1e1e1e" stroke-width="0.8"/>
<line x1="516.4375" y1="388.75" x2="516.4375" y2="390.35" stroke="#1e1e1e" stroke-width="0.8"/>
<rect x="412.55" y="282.75" width="3.9" height="3.9" fill="#111"/>
<line x1="449.9" y1="291.4" x2="449.9" y2="303.8" stroke="#3a3a3a" stroke-width="0.85"/>
<line x1="448.09999999999997" y1="291.4" x2="451.7" y2="291.4" stroke="#3a3a3a" stroke-width="0.85"/>
<line x1="448.09999999999997" y1="303.8" x2="451.7" y2="303.8" stroke="#3a3a3a" stroke-width="0.85"/>
<rect x="447.95" y="295.55" width="3.9" height="3.9" fill="#111"/>
<line x1="469.9" y1="339.4" x2="469.9" y2="346.4" stroke="#3a3a3a" stroke-width="0.85"/>
<line x1="468.09999999999997" y1="339.4" x2="471.7" y2="339.4" stroke="#3a3a3a" stroke-width="0.85"/>
<line x1="468.09999999999997" y1="346.4" x2="471.7" y2="346.4" stroke="#3a3a3a" stroke-width="0.85"/>
<rect x="467.95" y="340.75" width="3.9" height="3.9" fill="#111"/>
<line x1="484.4" y1="363.2" x2="484.4" y2="369.7" stroke="#3a3a3a" stroke-width="0.85"/>
<line x1="482.59999999999997" y1="363.2" x2="486.2" y2="363.2" stroke="#3a3a3a" stroke-width="0.85"/>
<line x1="482.59999999999997" y1="369.7" x2="486.2" y2="369.7" stroke="#3a3a3a" stroke-width="0.85"/>
<rect x="482.45" y="364.05" width="3.9" height="3.9" fill="#111"/>
<rect x="494.25" y="370.55" width="3.9" height="3.9" fill="#111"/>
<rect x="412.60" y="325.20" width="3.8" height="3.8" fill="#444"/>
<circle cx="449.9" cy="372.5" r="2.1" fill="#4a4a4a"/>
<circle cx="469.9" cy="369.7" r="2.1" fill="#4a4a4a"/>
<line x1="484.4" y1="362.5" x2="484.4" y2="370.5" stroke="#3a3a3a" stroke-width="0.85"/>
<line x1="482.59999999999997" y1="362.5" x2="486.2" y2="362.5" stroke="#3a3a3a" stroke-width="0.85"/>
<line x1="482.59999999999997" y1="370.5" x2="486.2" y2="370.5" stroke="#3a3a3a" stroke-width="0.85"/>
<circle cx="484.4" cy="366.7" r="2.1" fill="#4a4a4a"/>
<line x1="496.2" y1="360.4" x2="496.2" y2="367.4" stroke="#3a3a3a" stroke-width="0.85"/>
<line x1="494.4" y1="360.4" x2="498.0" y2="360.4" stroke="#3a3a3a" stroke-width="0.85"/>
<line x1="494.4" y1="367.4" x2="498.0" y2="367.4" stroke="#3a3a3a" stroke-width="0.85"/>
<circle cx="496.2" cy="363.7" r="2.1" fill="#4a4a4a"/>
<rect x="311.3" y="326.7" width="85.0" height="25.0" fill="#fff" stroke="#555" stroke-width="0.9"/>
<rect x="321.15" y="331.65" width="4.3" height="4.3" fill="#111"/>
<text x="336.7" y="336.7" font-size="8.6" text-anchor="start" font-weight="normal" fill="#1a1a1a" >sh-Control</text>
<circle cx="323.3" cy="345" r="2.35" fill="#4a4a4a"/>
<text x="336.7" y="346.9" font-size="8.6" text-anchor="start" font-weight="normal" fill="#1a1a1a" >sh-PDE4B #5</text>
<text x="381.5" y="222" font-size="11.2" text-anchor="start" font-weight="normal" fill="#1a1a1a" >OCI-Ly3</text>
<text x="345" y="420.75" font-size="9.7" text-anchor="start" font-weight="normal" fill="#1a1a1a" >Piceatannol µM (log values)</text>
<text x="278.0" y="304.2" font-size="11.4" text-anchor="middle" font-weight="normal" fill="#1a1a1a" transform="rotate(-90 278.0 304.2)">Growth %</text>
<line x1="29.15" y1="0.6" x2="31.75" y2="0.6" stroke="#1e1e1e" stroke-width="1.3"/>
<line x1="295.4" y1="1.4" x2="298.0" y2="1.4" stroke="#1e1e1e" stroke-width="1.3"/>
<line x1="295.4" y1="209.6" x2="298" y2="209.6" stroke="#1e1e1e" stroke-width="1.3"/>
<rect x="169.7" y="524.17" width="38" height="23.53" fill="#050505"/>
<rect x="235.1" y="473.08" width="37" height="74.62" fill="#5d5d5d" stroke="#0a0a0a" stroke-width="1.3"/>
<rect x="300.0" y="449.66" width="37" height="98.04" fill="#5d5d5d" stroke="#0a0a0a" stroke-width="1.3"/>
<line x1="188.9" y1="512.3" x2="188.9" y2="524.2" stroke="#0a0a0a" stroke-width="1.3"/>
<line x1="179.25" y1="512.3" x2="198.55" y2="512.3" stroke="#0a0a0a" stroke-width="1.3"/>
<line x1="253.6" y1="469.4" x2="253.6" y2="476.2" stroke="#0a0a0a" stroke-width="1.3"/>
<line x1="244.6" y1="469.4" x2="262.6" y2="469.4" stroke="#0a0a0a" stroke-width="1.3"/>
<line x1="244.6" y1="476.2" x2="262.6" y2="476.2" stroke="#0a0a0a" stroke-width="1.3"/>
<line x1="318.5" y1="446.3" x2="318.5" y2="453.4" stroke="#0a0a0a" stroke-width="1.3"/>
<line x1="309.25" y1="446.3" x2="327.75" y2="446.3" stroke="#0a0a0a" stroke-width="1.3"/>
<line x1="309.25" y1="453.4" x2="327.75" y2="453.4" stroke="#0a0a0a" stroke-width="1.3"/>
<line x1="160.8" y1="440.5" x2="160.8" y2="548.4" stroke="#0a0a0a" stroke-width="1.5"/>
<line x1="160.0" y1="547.7" x2="346.2" y2="547.7" stroke="#0a0a0a" stroke-width="1.5"/>
<line x1="157.2" y1="547.70" x2="160.8" y2="547.70" stroke="#0a0a0a" stroke-width="1.3"/>
<text x="157.6" y="549.90" font-size="6.4" text-anchor="end" font-weight="bold" fill="#1a1a1a" >0</text>
<line x1="157.2" y1="529.88" x2="160.8" y2="529.88" stroke="#0a0a0a" stroke-width="1.3"/>
<text x="157.6" y="532.08" font-size="6.4" text-anchor="end" font-weight="bold" fill="#1a1a1a" >5</text>
<line x1="157.2" y1="512.05" x2="160.8" y2="512.05" stroke="#0a0a0a" stroke-width="1.3"/>
<text x="157.6" y="514.25" font-size="6.4" text-anchor="end" font-weight="bold" fill="#1a1a1a" >10</text>
<line x1="157.2" y1="494.23" x2="160.8" y2="494.23" stroke="#0a0a0a" stroke-width="1.3"/>
<text x="157.6" y="496.43" font-size="6.4" text-anchor="end" font-weight="bold" fill="#1a1a1a" >15</text>
<line x1="157.2" y1="476.40" x2="160.8" y2="476.40" stroke="#0a0a0a" stroke-width="1.3"/>
<text x="157.6" y="478.60" font-size="6.4" text-anchor="end" font-weight="bold" fill="#1a1a1a" >20</text>
<line x1="157.2" y1="458.58" x2="160.8" y2="458.58" stroke="#0a0a0a" stroke-width="1.3"/>
<text x="157.6" y="460.78" font-size="6.4" text-anchor="end" font-weight="bold" fill="#1a1a1a" >25</text>
<line x1="157.2" y1="440.75" x2="160.8" y2="440.75" stroke="#0a0a0a" stroke-width="1.3"/>
<text x="157.6" y="442.95" font-size="6.4" text-anchor="end" font-weight="bold" fill="#1a1a1a" >30</text>
<line x1="188.9" y1="547.7" x2="188.9" y2="550.8" stroke="#0a0a0a" stroke-width="1.1"/>
<line x1="253.6" y1="547.7" x2="253.6" y2="550.8" stroke="#0a0a0a" stroke-width="1.1"/>
<line x1="318.5" y1="547.7" x2="318.5" y2="550.8" stroke="#0a0a0a" stroke-width="1.1"/>
<text x="188.6" y="557.4" font-size="7.6" text-anchor="middle" font-weight="bold" fill="#1a1a1a" >sh-control</text>
<text x="253.6" y="557.4" font-size="7.6" text-anchor="middle" font-weight="bold" fill="#1a1a1a" >sh-PDE4B#2</text>
<text x="318.2" y="557.4" font-size="7.6" text-anchor="middle" font-weight="bold" fill="#1a1a1a" >sh-PDE4B#5</text>
<text x="146" y="495" font-size="8.5" text-anchor="middle" font-weight="bold" fill="#1a1a1a" transform="rotate(-90 146 495)">% Apoptosis</text>
<text x="138.1" y="447.2" font-size="11.2" text-anchor="start" font-weight="bold" fill="#1a1a1a" >B</text>
</svg>
</body></html>
